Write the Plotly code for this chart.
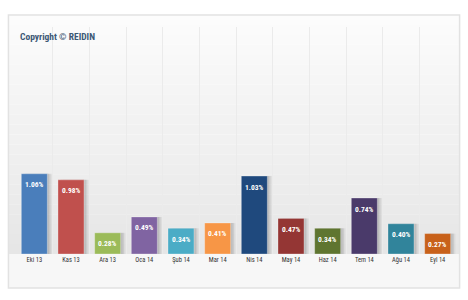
import plotly.graph_objects as go

categories = ["Eki 13", "Kas 13", "Ara 13", "Oca 14", "Şub 14", "Mar 14",
              "Nis 14", "May 14", "Haz 14", "Tem 14", "Ağu 14", "Eyl 14"]
values = [1.06, 0.98, 0.28, 0.49, 0.34, 0.41, 1.03, 0.47, 0.34, 0.74, 0.40, 0.27]
colors = ["#4a7ebb", "#c0504d", "#9bbb59", "#8064a2", "#4bacc6", "#f79646",
          "#1f497d", "#943634", "#5f7530", "#4a3a6a", "#31849b", "#c8611a"]
labels = [f"{v:.2f}%" for v in values]

FONT = "Liberation Sans Narrow, Arial Narrow, Roboto Condensed, Roboto, sans-serif"
BW = 0.71

fig = go.Figure()
# soft drop shadow
for k, (dx, op) in enumerate([(0.13, 0.05), (0.09, 0.07), (0.05, 0.08)]):
    fig.add_trace(go.Bar(
        x=categories, y=values, width=BW, offset=-BW / 2 + dx,
        marker=dict(color=f"rgba(0,0,0,{op})", line=dict(width=0)),
        hoverinfo="skip", showlegend=False,
    ))
fig.add_trace(go.Bar(
    x=categories, y=values, width=BW, offset=-BW / 2,
    marker=dict(color=colors, line=dict(color="rgba(255,255,255,0.3)", width=1)),
    showlegend=False,
))

annotations = [dict(text="<b>Copyright © REIDIN</b>", xref="paper", yref="paper",
                    x=0.005, y=0.956, xanchor="left", yanchor="middle",
                    showarrow=False,
                    font=dict(family=FONT, size=9.5, color="#3d5875"))]
for c, v, t in zip(categories, values, labels):
    annotations.append(dict(text=f"<b>{t}</b>", x=c, y=v, xref="x", yref="y",
                            yshift=-11, showarrow=False, yanchor="middle",
                            font=dict(family=FONT, size=7.5, color="white")))

shapes = []
x0f, x1f, y0f, y1f = -0.0172, 1.0082, -0.150, 1.053
n = 24
for i in range(n):
    t = i / (n - 1)
    ya = y1f - y1f * i / n
    yb = y1f - y1f * (i + 1) / n
    g = int(round(252 - 22 * t))
    shapes.append(dict(type="rect", xref="paper", yref="paper", x0=x0f, x1=x1f,
                       y0=yb, y1=ya, fillcolor=f"rgb({g},{g},{g})",
                       line=dict(width=0), layer="below"))
shapes.append(dict(type="rect", xref="paper", yref="paper", x0=x0f, x1=x1f,
                   y0=y0f, y1=0.0, fillcolor="rgb(247,247,247)",
                   line=dict(width=0), layer="below"))
shapes.append(dict(type="rect", xref="paper", yref="paper", x0=x0f, x1=x1f,
                   y0=y0f, y1=y1f, line=dict(color="#e2e2e2", width=1.5),
                   layer="below"))

fig.update_layout(
    width=468, height=300,
    margin=dict(l=15.6, r=11.6, t=27, b=46),
    paper_bgcolor="white", plot_bgcolor="rgba(0,0,0,0)",
    barmode="overlay",
    shapes=shapes, annotations=annotations,
    font=dict(family=FONT),
)
fig.update_xaxes(
    type="category", tickson="boundaries", showgrid=True,
    gridcolor="#ebebeb", gridwidth=1, showline=False, zeroline=False,
    ticks="outside", ticklen=9, tickcolor="rgba(0,0,0,0)",
    tickfont=dict(family=FONT, size=6.5, color="#333333"),
)
fig.update_yaxes(range=[0, 3.0], showgrid=False, zeroline=False,
                 showticklabels=False, showline=False)

fig.write_html("out.html")
